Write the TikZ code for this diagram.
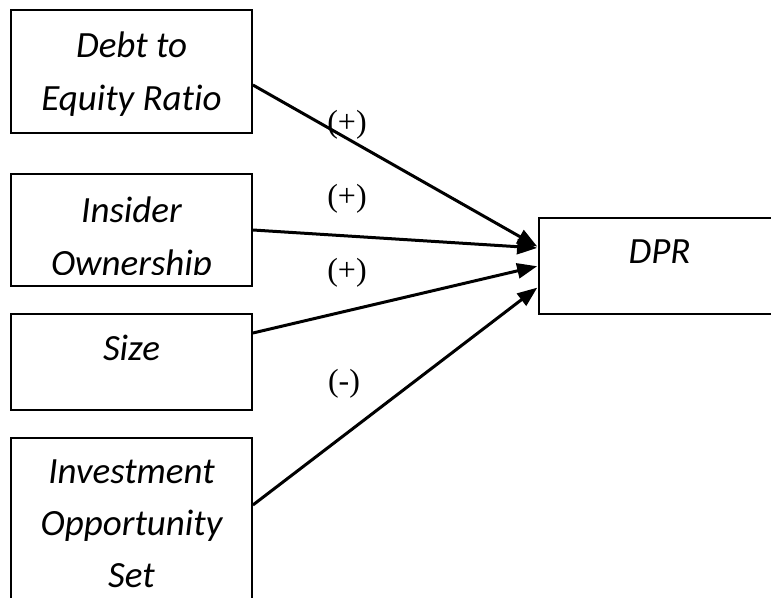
\documentclass[tikz,border=0pt]{standalone}
\usepackage{fontspec}
\setmainfont[Ligatures=NoCommon]{Carlito}
\newfontfamily\signfont{Liberation Serif}
\usetikzlibrary{arrows.meta}

\tikzset{
  varbox/.style={draw, line width=1.8pt, rectangle, minimum width=241pt, inner sep=0pt},
  vartext/.style={anchor=base, inner sep=0pt, font=\itshape\fontsize{37}{42}\selectfont},
  sign/.style={inner sep=0pt, font=\signfont\fontsize{32}{34}\selectfont},
  link/.style={line width=3pt, -{Triangle[length=20pt,width=15pt]}, shorten >=1pt}
}

\begin{document}
\begin{tikzpicture}[x=1pt,y=-1pt]
\clip (0,0) rectangle (771,597);
\fill[white] (0,0) rectangle (771,597);

% independent variables
\node[varbox, minimum height=123pt] (der) at (131.5,71.5) {};
\node[varbox, minimum height=112pt] (ins) at (131.5,230) {};
\node[varbox, minimum height=96pt]  (siz) at (131.5,362) {};
\node[varbox, minimum height=184pt] (ios) at (131.5,530) {};

% dependent variable
\node[varbox, minimum height=96pt] (dpr) at (659.5,266) {};

% box captions
\node[vartext] (t1a) at (131.5,57) {Debt to};
\node[vartext] (t1b) at (131.5,110) {Equity Ratio};
\node[vartext] (t2a) at (131.5,222) {Insider};
\begin{scope}
  \clip (11,174) rectangle (252,274);
  \node[vartext] (t2b) at (131.5,275) {Ownership};
\end{scope}
\node[vartext] (t3) at (131.5,360) {Size};
\node[vartext] (t4a) at (131.5,483) {Investment};
\node[vartext] (t4b) at (131.5,535) {Opportunity};
\node[vartext] (t4c) at (131.5,587) {Set};
\node[vartext] (t5) at (659.5,263) {DPR};

% hypothesised effects
\draw[link] ([yshift=-13.5pt]der.east) -- ([yshift=19pt]dpr.west);
\draw[link] (ins.east) -- ([yshift=18pt]dpr.west);
\draw[link] ([yshift=29pt]siz.east) -- (dpr.west);
\draw[link] ([yshift=25pt]ios.east) -- ([yshift=-21pt]dpr.west);

% signs
\node[sign] (s1) at (347,125) {(+)};
\node[sign] (s2) at (347,199) {(+)};
\node[sign] (s3) at (347,273) {(+)};
\node[sign] (s4) at (344,384) {(-)};
\end{tikzpicture}
\end{document}
